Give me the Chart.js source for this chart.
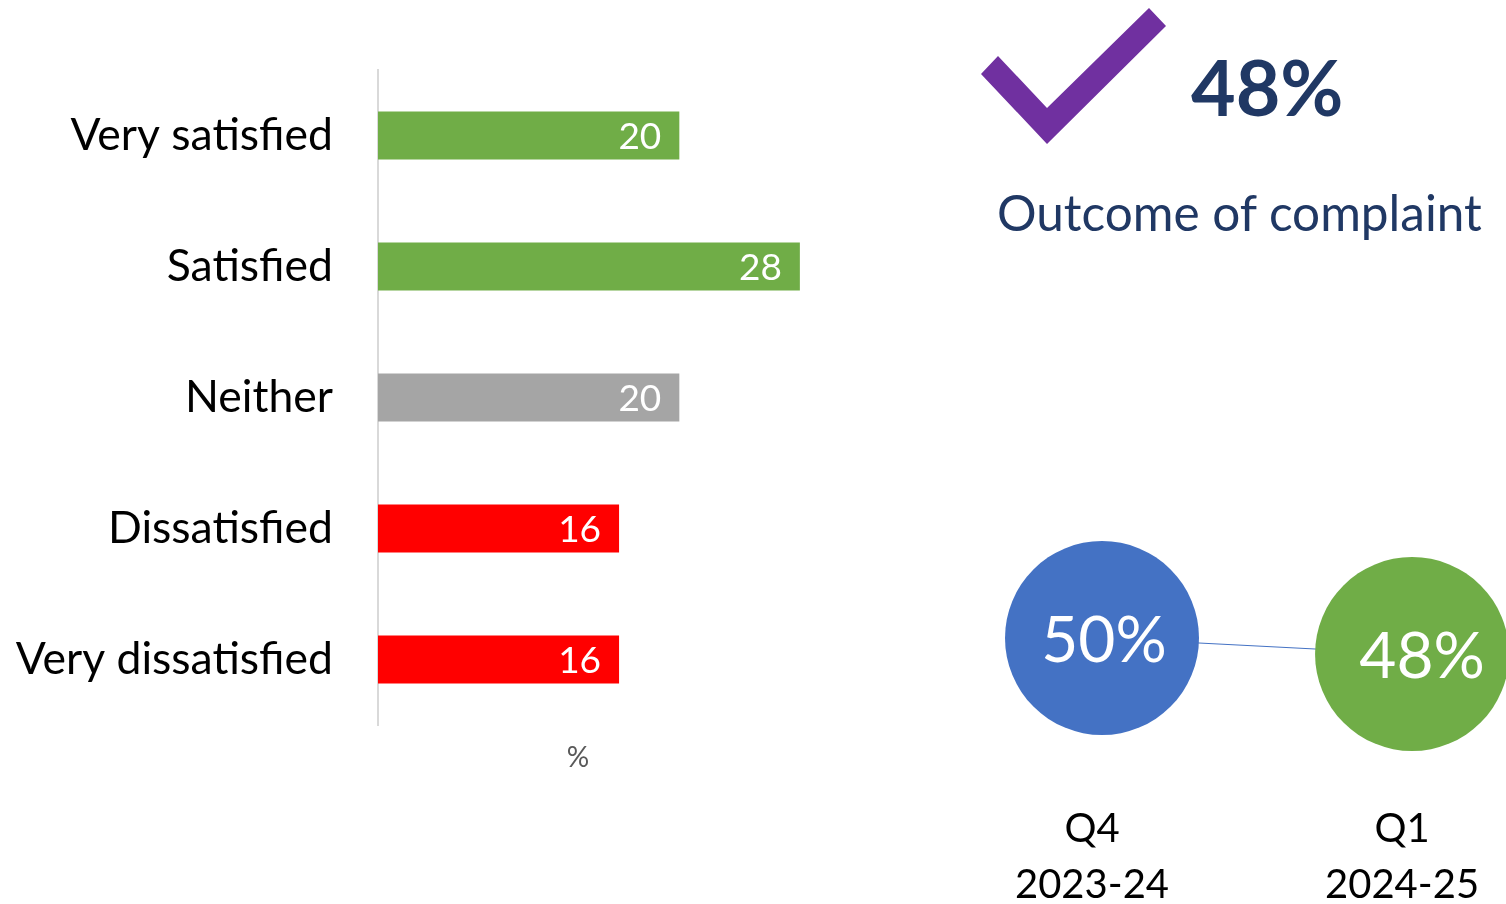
<html>

<head>
  <title>Complaint satisfaction</title>
  <style>
    body {
      margin: 0;
      width: 1506px;
      height: 904px;
      overflow: hidden;
      background: #fff;
      font-family: Lato, sans-serif;
      position: relative;
    }
    .box {
      position: absolute;
    }
    #unit {
      left: 548px;
      top: 738px;
      width: 60px;
      text-align: center;
      font-size: 28px;
      line-height: 36px;
      color: #595959;
    }
    #headline {
      left: 1191px;
      top: 38px;
      font-size: 77px;
      line-height: 96px;
      font-weight: bold;
      color: #203864;
    }
    #subtitle {
      left: 997px;
      top: 182px;
      font-size: 49.5px;
      line-height: 60px;
      color: #203864;
    }
  </style>
  <script src="https://cdn.jsdelivr.net/npm/chart.js@4.4.1/dist/chart.umd.min.js"></script>
</head>

<body>
  <div class="box" style="left:0;top:0;width:830px;height:800px">
    <canvas id="bars"></canvas>
  </div>
  <div class="box" id="unit">%</div>

  <svg class="box" style="left:960px;top:0" width="220" height="160">
    <polygon points="21,74 38,56 87,108 189,8 206,26 87,144" fill="#7030A0" />
  </svg>
  <div class="box" id="headline">48%</div>
  <div class="box" id="subtitle">Outcome of complaint</div>

  <div class="box" style="left:960px;top:250px;width:546px;height:654px">
    <canvas id="trend"></canvas>
  </div>

  <script>
    const categories = ['Very satisfied', 'Satisfied', 'Neither', 'Dissatisfied', 'Very dissatisfied'];
    const shares = [20, 28, 20, 16, 16];
    const barColors = ['#70AD47', '#70AD47', '#A5A5A5', '#FF0000', '#FF0000'];

    const periods = [['Q4', '2023-24'], ['Q1', '2024-25']];
    const outcome = [50, 48];
    const periodColors = ['#4472C4', '#70AD47'];

    const barLabels = {
      id: 'barLabels',
      afterDatasetsDraw(chart) {
        const { ctx } = chart;
        const meta = chart.getDatasetMeta(0);
        ctx.save();
        ctx.font = '37px Lato';
        ctx.fillStyle = '#fff';
        ctx.textAlign = 'right';
        ctx.textBaseline = 'middle';
        meta.data.forEach((bar, i) => {
          ctx.fillText(String(shares[i]), bar.x - 18, bar.y + 2);
        });
        ctx.restore();
      },
    };

    new Chart(document.querySelector('canvas#bars'), {
      type: 'bar',
      plugins: [barLabels],
      data: {
        labels: categories,
        datasets: [{
          data: shares,
          backgroundColor: barColors,
          categoryPercentage: 1,
          barPercentage: 0.366,
        }],
      },
      options: {
        indexAxis: 'y',
        maintainAspectRatio: false,
        animation: false,
        events: [],
        layout: {
          padding: { top: 70, bottom: 75, left: 0, right: 0 },
        },
        plugins: {
          legend: { display: false },
          tooltip: { enabled: false },
        },
        scales: {
          x: {
            display: false,
            min: 0,
            max: 30,
          },
          y: {
            afterFit: (axis) => { axis.width = 378; },
            grid: { display: false },
            border: { display: true, color: '#D9D9D9', width: 2 },
            ticks: {
              padding: 37,
              color: '#000',
              font: { family: 'Lato', size: 44.5 },
            },
          },
        },
      },
    });

    const pointLabels = {
      id: 'pointLabels',
      afterDatasetsDraw(chart) {
        const { ctx } = chart;
        const meta = chart.getDatasetMeta(0);
        ctx.save();
        ctx.font = '64px Lato';
        ctx.fillStyle = '#fff';
        ctx.textAlign = 'center';
        ctx.textBaseline = 'middle';
        meta.data.forEach((pt, i) => {
          ctx.fillText(outcome[i] + '%', pt.x + 2 + i * 8, pt.y + 3);
        });
        ctx.restore();
      },
    };

    new Chart(document.querySelector('canvas#trend'), {
      type: 'line',
      plugins: [pointLabels],
      data: {
        datasets: [{
          data: outcome.map((v, i) => ({ x: i, y: v })),
          borderColor: '#4472C4',
          borderWidth: 1.2,
          pointRadius: 97,
          pointBorderWidth: 0,
          pointBackgroundColor: periodColors,
          clip: false,
        }],
      },
      options: {
        maintainAspectRatio: false,
        animation: false,
        events: [],
        layout: { padding: 0, autoPadding: false },
        plugins: {
          legend: { display: false },
          tooltip: { enabled: false },
        },
        scales: {
          x: {
            type: 'linear',
            min: -0.458,
            max: 1.303,
            afterBuildTicks: (axis) => { axis.ticks = [{ value: 0 }, { value: 1 }]; },
            afterFit: (axis) => {
              axis.height = 115;
              axis.paddingLeft = 0;
              axis.paddingRight = 0;
            },
            grid: { display: false },
            border: { display: false },
            ticks: {
              padding: 4,
              labelOffset: -10,
              color: '#000',
              font: { family: 'Lato', size: 40, lineHeight: 1.4 },
              callback: (v) => periods[v],
            },
          },
          y: {
            display: false,
            min: 31.125,
            max: 98.5,
          },
        },
      },
    });
  </script>
</body>

</html>
